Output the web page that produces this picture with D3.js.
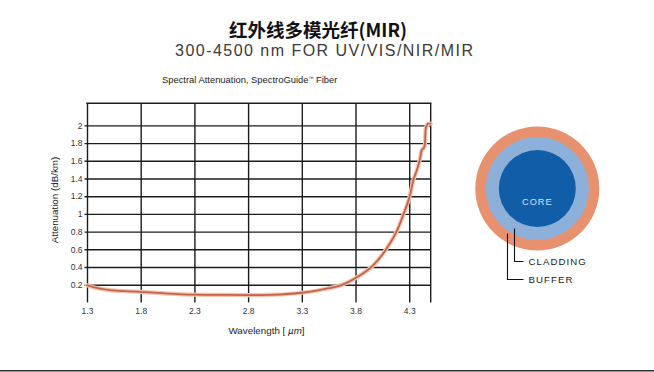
<!DOCTYPE html>
<html>
<head>
<meta charset="utf-8">
<script src="https://cdn.jsdelivr.net/npm/d3@7/dist/d3.min.js"></script>
<style>
  html, body { margin: 0; padding: 0; background: #fff; }
  svg { display: block; }
  text { font-family: "Liberation Sans", Arial, sans-serif; }
</style>
</head>
<body>
<svg id="chart" width="654" height="372"></svg>
<script>
// Spectral attenuation of the SpectroGuide fiber (wavelength in µm, attenuation in dB/km)
const wavelength = [1.3, 1.4, 1.53, 1.8, 2.05, 2.3, 2.6, 2.8, 3.0, 3.2, 3.3, 3.45, 3.55, 3.656, 3.805, 3.966, 4.09, 4.184, 4.254, 4.307, 4.338, 4.37, 4.40, 4.416, 4.44, 4.447, 4.453, 4.477, 4.5];
const attenuation = [0.195, 0.16, 0.135, 0.12, 0.1, 0.088, 0.084, 0.083, 0.086, 0.098, 0.109, 0.135, 0.16, 0.19, 0.278, 0.42, 0.61, 0.805, 1.02, 1.21, 1.38, 1.49, 1.62, 1.72, 1.755, 1.8, 1.96, 2.02, 2.02];
const xTicks = [1.3, 1.8, 2.3, 2.8, 3.3, 3.8, 4.3];
const yTicks = [0.2, 0.4, 0.6, 0.8, 1, 1.2, 1.4, 1.6, 1.8, 2];
const xDomain = [1.3, 4.5];
const yDomain = [0, 2.25];
const fiberLayers = ["BUFFER", "CLADDING", "CORE"];

const svg = d3.select("#chart");

// Titles
svg.append("text")
  .attr("x", 318).attr("y", 37)
  .attr("text-anchor", "middle")
  .style("font-family", '"Noto Sans CJK SC", sans-serif')
  .style("font-weight", "700")
  .style("font-size", "18.5px")
  .attr("fill", "#111")
  .text("红外线多模光纤(MIR)");

svg.append("text")
  .attr("x", 175).attr("y", 55.5)
  .attr("textLength", 298).attr("lengthAdjust", "spacing")
  .style("font-size", "16px")
  .attr("fill", "#3a3a3a")
  .text("300-4500 nm FOR UV/VIS/NIR/MIR");

const sub = svg.append("text")
  .attr("x", 162).attr("y", 83.3)
  .style("font-size", "9.4px")
  .attr("fill", "#222");
sub.append("tspan").text("Spectral Attenuation, SpectroGuide");
sub.append("tspan").attr("dy", -3).style("font-size", "5px").text("™");
sub.append("tspan").attr("dy", 3).text(" Fiber");

// Plot area
const plotLeft = 87, plotRight = 430.7, plotTop = 103.3, plotBottom = 302.4;
const x = d3.scaleLinear().domain(xDomain).range([plotLeft, plotRight]);
const y = d3.scaleLinear().domain(yDomain).range([plotBottom, plotTop]);

const grid = "#1c1c1c";

// Vertical grid lines with x labels
const xAxis = svg.append("g")
  .attr("transform", `translate(0,${plotBottom})`)
  .call(d3.axisBottom(x).tickValues(xTicks).tickSize(-(plotBottom - plotTop)).tickPadding(5.5).tickFormat(d3.format(".1f")));
xAxis.select(".domain").remove();
xAxis.selectAll(".tick line").attr("stroke", grid).attr("stroke-width", 1.4);
xAxis.selectAll(".tick text")
  .style("font-size", "8.5px").style("font-family", '"Liberation Sans", Arial, sans-serif')
  .attr("fill", "#333");

// Horizontal grid lines with y labels
const yAxis = svg.append("g")
  .attr("transform", `translate(${plotLeft},0)`)
  .call(d3.axisLeft(y).tickValues(yTicks).tickSize(-(plotRight - plotLeft)).tickPadding(4.5).tickFormat(d3.format("~g")));
yAxis.select(".domain").remove();
yAxis.selectAll(".tick line").attr("x1", -2.5).attr("stroke", grid).attr("stroke-width", 1.4);
yAxis.selectAll(".tick text")
  .style("font-size", "8.5px").style("font-family", '"Liberation Sans", Arial, sans-serif')
  .attr("fill", "#333");

// Frame: top and right edges
svg.append("line")
  .attr("x1", x(xDomain[0]) - 0.7).attr("x2", x(xDomain[1]) + 0.7)
  .attr("y1", y(yDomain[1])).attr("y2", y(yDomain[1]))
  .attr("stroke", grid).attr("stroke-width", 1.4);
svg.append("line")
  .attr("x1", x(xDomain[1])).attr("x2", x(xDomain[1]))
  .attr("y1", y(yDomain[1])).attr("y2", y(yDomain[0]))
  .attr("stroke", grid).attr("stroke-width", 1.4);

// Attenuation curve: soft halo under a copper line
const pts = wavelength.map((w, i) => [w, attenuation[i]]);
const line = d3.line().x(d => x(d[0])).y(d => y(d[1])).curve(d3.curveMonotoneX);
svg.append("path").datum(pts).attr("d", line)
  .attr("fill", "none").attr("stroke", "#f3c3b1").attr("stroke-width", 4.2)
  .attr("stroke-linejoin", "round").attr("stroke-linecap", "round");
svg.append("path").datum(pts).attr("d", line)
  .attr("fill", "none").attr("stroke", "#c4644a").attr("stroke-width", 1.8)
  .attr("stroke-linejoin", "round").attr("stroke-linecap", "round");

// Axis titles
svg.append("text")
  .attr("transform", "translate(58,200) rotate(-90)")
  .attr("text-anchor", "middle")
  .style("font-size", "9.8px")
  .attr("fill", "#222")
  .text("Attenuation (dB/km)");

const xt = svg.append("text")
  .attr("x", 266.5).attr("y", 334)
  .attr("text-anchor", "middle")
  .style("font-size", "9.8px")
  .attr("fill", "#222");
xt.append("tspan").text("Wavelength [ ");
xt.append("tspan").style("font-style", "italic").text("µm");
xt.append("tspan").text("]");

// Fiber cross-section
const cx = 537.3, cy = 188.5;
const radii = { BUFFER: 62, CLADDING: 51.5, CORE: 38.5 };
const fills = { BUFFER: "#e8916f", CLADDING: "#8cb0da", CORE: "#115da8" };
svg.selectAll("circle.layer").data(fiberLayers).join("circle")
  .attr("class", "layer")
  .attr("cx", cx).attr("cy", cy)
  .attr("r", d => radii[d])
  .attr("fill", d => fills[d]);

svg.append("text")
  .attr("x", cx).attr("y", 205)
  .attr("text-anchor", "middle")
  .style("font-size", "9.2px").style("letter-spacing", "1px")
  .attr("fill", "#d3e5f5")
  .text("CORE");

// Leader lines for the labelled layers
const leaders = [
  { name: "CLADDING", lx: 514.5, y0: 228.5, ly: 261.5 },
  { name: "BUFFER", lx: 507.5, y0: 233.5, ly: 279.5 }
];
leaders.forEach(l => {
  svg.append("path")
    .attr("d", `M${l.lx},${l.y0}V${l.ly}H523.5`)
    .attr("fill", "none").attr("stroke", "#111").attr("stroke-width", 1.1);
  svg.append("text")
    .attr("x", 528.5).attr("y", l.ly + 3.6)
    .style("font-size", "9.6px").style("letter-spacing", "1.1px")
    .attr("fill", "#222")
    .text(l.name);
});

// Bottom rule
svg.append("line")
  .attr("x1", 0).attr("x2", 654).attr("y1", 370.8).attr("y2", 370.8)
  .attr("stroke", "#333").attr("stroke-width", 1.6);
</script>
</body>
</html>
